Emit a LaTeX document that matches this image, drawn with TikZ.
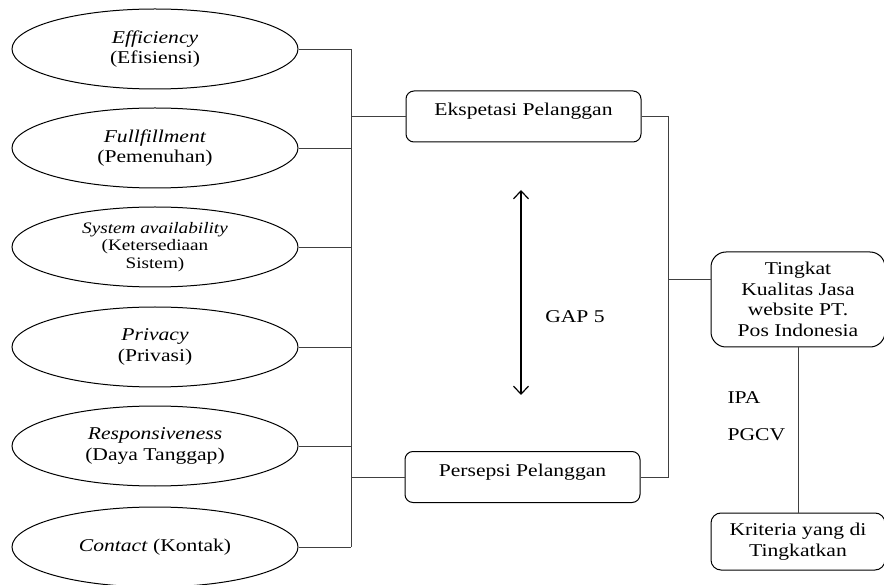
\documentclass[tikz,border=0pt]{standalone}
\usepackage{fontspec}
\setmainfont{Liberation Serif}[FakeStretch=1.2]
\usetikzlibrary{shapes.geometric,arrows.meta}
\tikzset{
  dim/.style={ellipse,draw,line width=1pt,minimum width=286pt,minimum height=80pt,inner sep=0pt,align=center},
  kotak/.style={draw,line width=1pt,rounded corners=8pt,align=center,inner sep=0pt},
  garis/.style={line width=0.8pt,black!75},
  teks/.style={font=\fontsize{18}{20.5}\selectfont}
}
\begin{document}
\begin{tikzpicture}[x=1pt,y=-1pt,teks]
                \useasboundingbox (0,0) rectangle (884,585);
                %% dimensi
                \node[dim] (e1) at (155,49) {\textit{Efficiency}\\(Efisiensi)};
                \node[dim] (e2) at (155,148) {\textit{Fullfillment}\\(Pemenuhan)};
                \node[dim,font=\fontsize{16}{17.5}\selectfont] (e3) at (155,247) {\textit{System availability}\\(Ketersediaan\\Sistem)};
                \node[dim] (e4) at (155,347) {\textit{Privacy}\\(Privasi)};
                \node[dim] (e5) at (155,446) {\textit{Responsiveness}\\(Daya Tanggap)};
                \node[dim] (e6) at (155,547) {\textit{Contact} (Kontak)};
                %% kotak
                \node[kotak,minimum width=235pt,minimum height=51pt,text depth=14pt] (ekspetasi) at (523.5,116.5) {Ekspetasi Pelanggan};
                \node[kotak,minimum width=235pt,minimum height=51pt,text depth=14pt] (persepsi) at (522.5,477) {Persepsi Pelanggan};
                \node[kotak,rounded corners=15pt,minimum width=174pt,minimum height=95pt] (tingkat) at (798,299.5) {Tingkat\\Kualitas Jasa\\website PT.\\Pos Indonesia};
                \node[kotak,rounded corners=10pt,minimum width=174pt,minimum height=57pt] (kriteria) at (798,541.5) {Kriteria yang di\\Tingkatkan};
                %% label
                \node (gap) at (575,317) {GAP 5};
                \node[anchor=west] (ipa) at (724,398) {IPA};
                \node[anchor=west] (pgcv) at (724,435) {PGCV};
                \coordinate (bus) at (351,0);
                \coordinate (rbus) at (668,0);
                \coordinate (gtop) at (521,190);
                \coordinate (gbot) at (521,395);
                %% garis
                \foreach \e in {e1,e2,e3,e4,e5,e6}
                    \draw[garis] (\e.east) -- (\e.east -| bus);
                \draw[garis] (e1.east -| bus) -- (e6.east -| bus);
                \draw[garis] (ekspetasi.west -| bus) -- (ekspetasi.west);
                \draw[garis] (persepsi.west -| bus) -- (persepsi.west);
                \draw[garis] (ekspetasi.east) -- (ekspetasi.east -| rbus) -- (persepsi.east -| rbus) -- (persepsi.east);
                \draw[garis] ([yshift=20pt]tingkat.west -| rbus) -- ([yshift=20pt]tingkat.west);
                \draw[garis] (tingkat.south) -- (kriteria.north);
                \draw[line width=1.2pt,{Straight Barb[length=8pt,width=15pt]}-{Straight Barb[length=8pt,width=15pt]}] (gtop) -- (gbot);
            \end{tikzpicture}
\end{document}
